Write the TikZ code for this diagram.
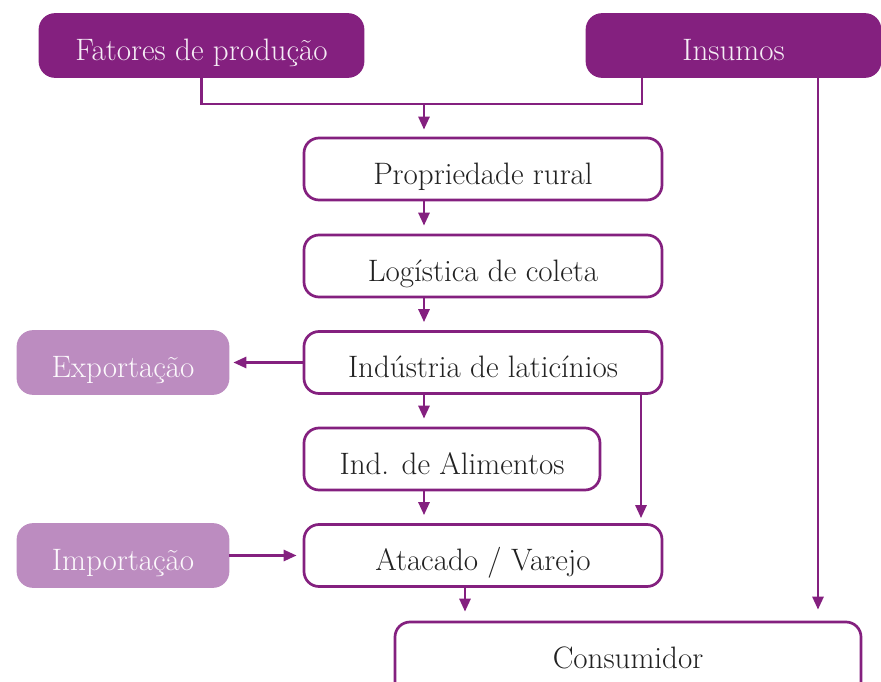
\documentclass[tikz,border=0pt]{standalone}
\usepackage{tikz}
\usetikzlibrary{arrows.meta}
\definecolor{roxo}{HTML}{84207F}
\definecolor{lilas}{HTML}{BC8CC0}
\definecolor{texto}{HTML}{222222}
\tikzset{
  caixa/.style={draw=roxo, line width=2.7pt, rounded corners=15pt, fill=white, text=texto,
    font=\fontsize{31}{36}\selectfont, minimum height=62pt, inner sep=0pt,
    text height=30pt, text depth=0pt},
  escura/.style={caixa, fill=roxo, text=white!92!roxo},
  clara/.style={caixa, draw=lilas, fill=lilas, text=white!95!lilas},
  seta/.style={draw=roxo, line width=2.7pt, -{Triangle[length=13pt,width=11pt]}},
  linha/.style={draw=roxo, line width=2.7pt}
}

\begin{document}
\begin{tikzpicture}[x=1pt, y=-1pt]
\useasboundingbox (0,0) rectangle (881,682);
\clip (0,0) rectangle (881,682);
% caixas de cima
\node[escura, minimum width=323pt] (fat) at (201.5,45.5) {Fatores de produção};
\node[escura, minimum width=293pt] (ins) at (733.5,45.5) {Insumos};
% cadeia central
\node[caixa, minimum width=358pt] (prop) at (483,169) {Propriedade rural};
\node[caixa, minimum width=358pt] (log) at (483,266) {Logística de coleta};
\node[caixa, minimum width=358pt] (ind) at (483,362.5) {Indústria de laticínios};
\node[caixa, minimum width=296pt] (ali) at (452,459) {Ind. de Alimentos};
\node[caixa, minimum width=358pt] (ata) at (483,555.5) {Atacado / Varejo};
\node[caixa, minimum width=466pt, minimum height=78pt, text depth=16pt] (cons) at (628,661) {Consumidor};
% comercio exterior
\node[clara, minimum width=210pt] (exp) at (123,362.5) {Exportação};
\node[clara, minimum width=210pt] (imp) at (123,555.5) {Importação};

% ligacoes
\coordinate (junta) at (424,104);
\draw[linha] (fat.south) |- (junta) -| ([xshift=-91.5pt]ins.south);
\draw[seta, shorten >=7pt] (junta) -- (prop.north -| junta);
\draw[seta, shorten >=8pt] (prop.south -| junta) -- (log.north -| junta);
\draw[seta, shorten >=8pt] (log.south -| junta) -- (ind.north -| junta);
\draw[seta, shorten >=4pt] (ind.west) -- (exp.east);
\draw[seta, shorten >=8pt] (ind.south -| junta) -- (ali.north -| junta);
\draw[seta, shorten >=5pt] ([xshift=158pt]ind.south) -- ([xshift=158pt]ata.north);
\draw[seta, shorten >=8pt] (ali.south -| junta) -- (ata.north -| junta);
\draw[seta, shorten >=6pt] (imp.east) -- (ata.west);
\draw[seta, shorten >=9pt] (ata.south -| 465,0) -- (cons.north -| 465,0);
\draw[seta, shorten >=11pt] ([xshift=84.5pt]ins.south) -- (cons.north -| 818,0);
\end{tikzpicture}
\end{document}
